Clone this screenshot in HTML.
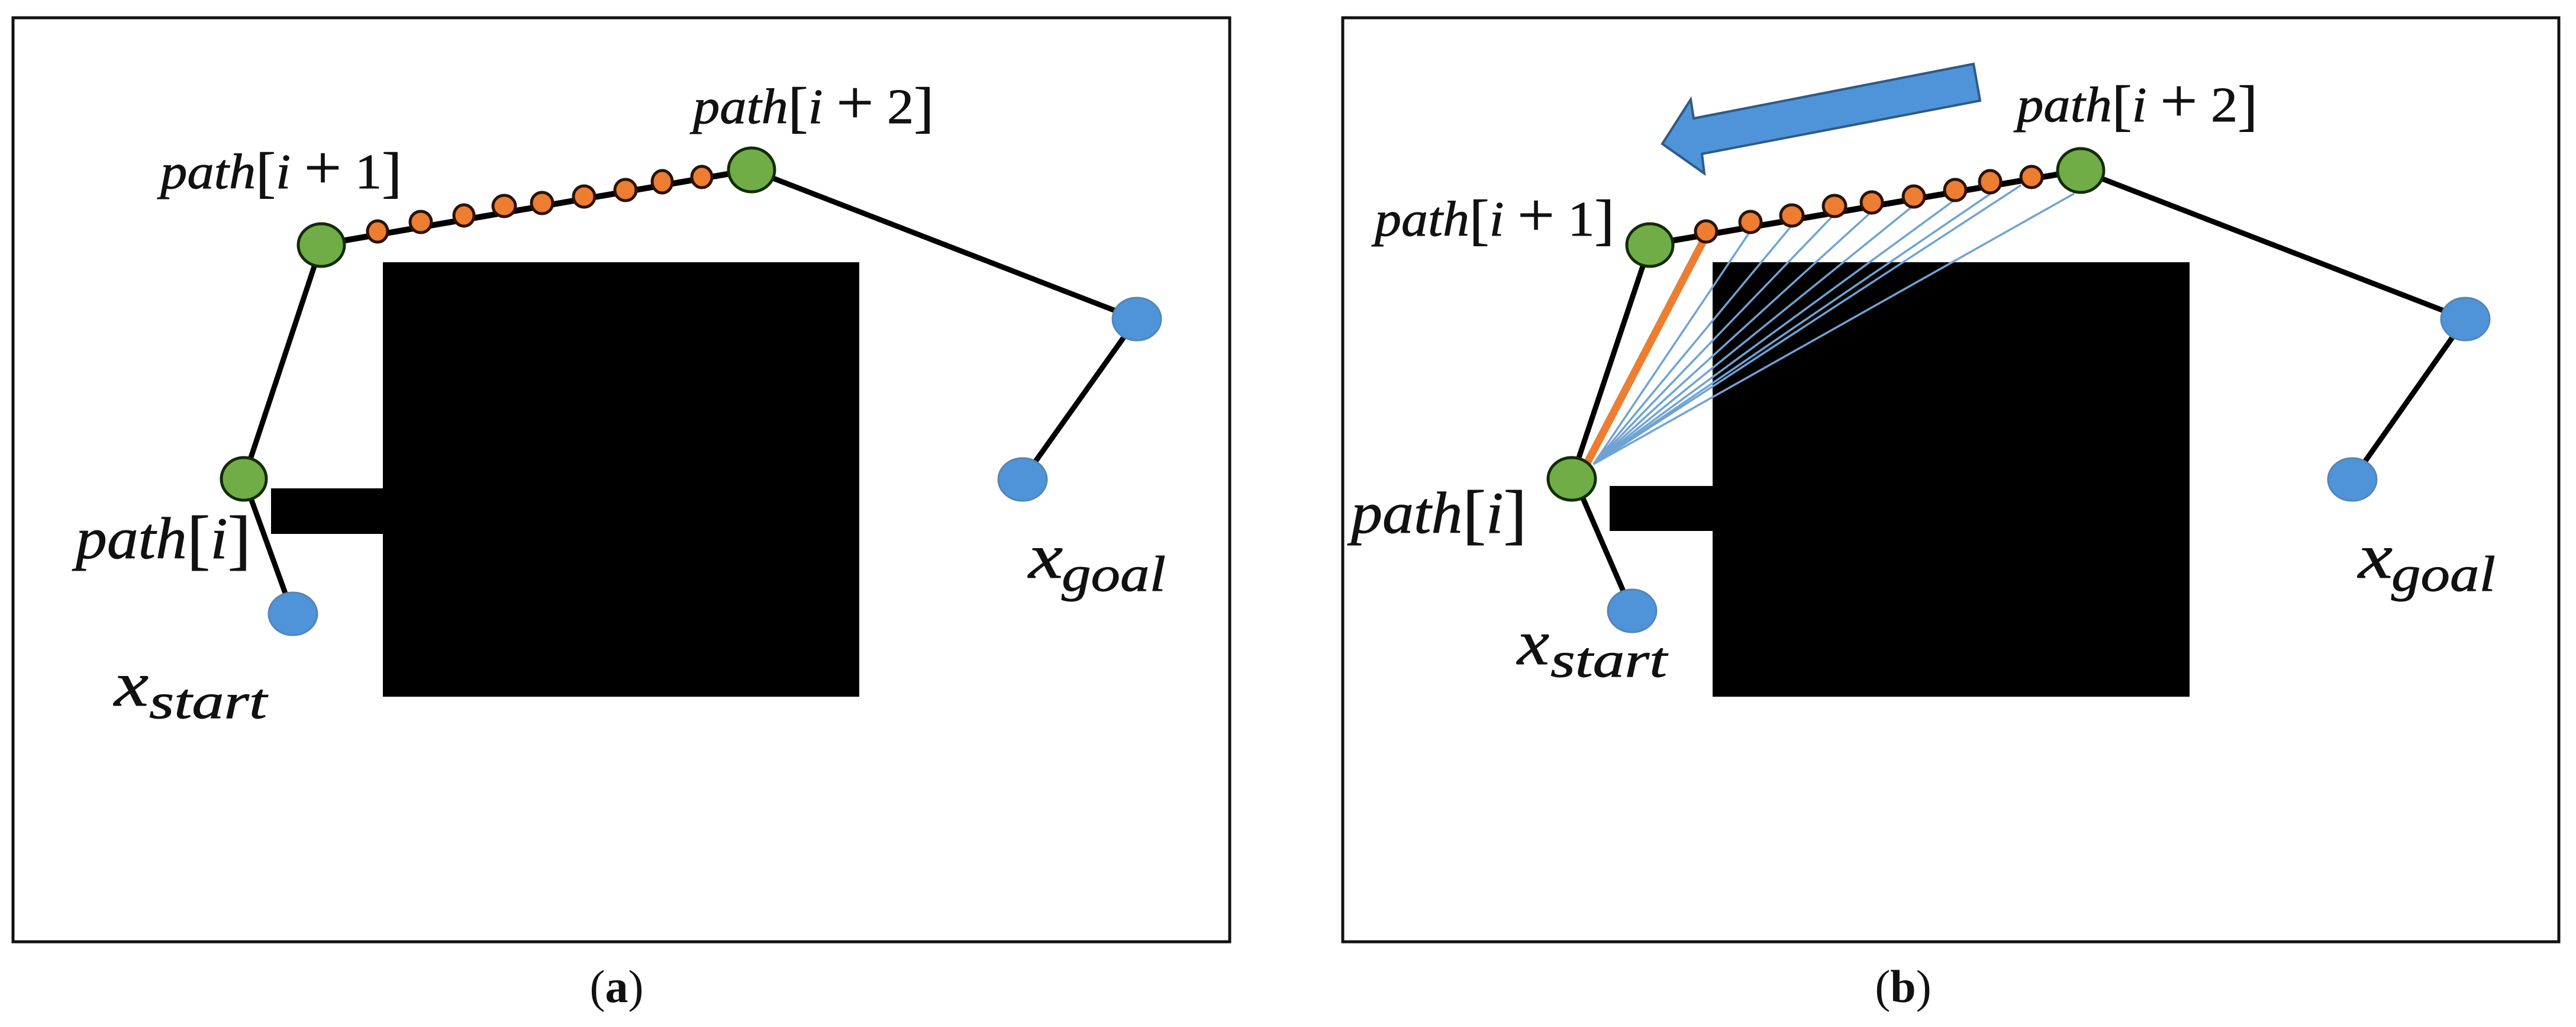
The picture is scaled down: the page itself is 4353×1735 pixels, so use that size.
<!DOCTYPE html>
<html>
<head>
<meta charset="utf-8">
<style>
html,body{margin:0;padding:0;background:#fff;}
svg{display:block;}
text{font-family:"Liberation Serif",serif;fill:#111;}
.lb{stroke:#111;stroke-width:0.9;}
.it{font-style:italic;}
</style>
</head>
<body>
<svg width="4353" height="1735" viewBox="0 0 4353 1735" xmlns="http://www.w3.org/2000/svg">
<rect width="4353" height="1735" fill="#fff"/>

<!-- Panel a -->
<rect x="22" y="30" width="2056" height="1561" fill="#fff" stroke="#111" stroke-width="5"/>
<rect x="647" y="443" width="805" height="734" fill="#000"/>
<rect x="458" y="825" width="190" height="77" fill="#000"/>
<g stroke="#000" stroke-linecap="round" fill="none">
<line x1="543" y1="414" x2="412" y2="809" stroke-width="9"/>
<line x1="412" y1="809" x2="494" y2="1035" stroke-width="9"/>
<line x1="543" y1="413" x2="1270" y2="287" stroke-width="10"/>
<line x1="1270" y1="287" x2="1921" y2="539" stroke-width="9"/>
<line x1="1921" y1="539" x2="1728" y2="810" stroke-width="9"/>
</g>
<g fill="#ED7D31" stroke="#2a1204" stroke-width="5">
<ellipse cx="638" cy="391" rx="17" ry="18"/>
<ellipse cx="711" cy="375" rx="18" ry="18"/>
<ellipse cx="784" cy="364" rx="17" ry="18"/>
<ellipse cx="852" cy="348" rx="19" ry="18"/>
<ellipse cx="916" cy="343" rx="18" ry="18"/>
<ellipse cx="987" cy="332" rx="18" ry="18"/>
<ellipse cx="1057" cy="321" rx="18" ry="18"/>
<ellipse cx="1119" cy="307" rx="17" ry="19"/>
<ellipse cx="1186" cy="299" rx="17" ry="18"/>
</g>
<g fill="#70AD47" stroke="#142b07" stroke-width="5">
<ellipse cx="412" cy="809" rx="38" ry="36"/>
<ellipse cx="543" cy="414" rx="39" ry="36"/>
<ellipse cx="1270" cy="287" rx="39" ry="37"/>
</g>
<g fill="#4F94D8" stroke="#5585b5" stroke-width="3">
<ellipse cx="495" cy="1037" rx="41" ry="36"/>
<ellipse cx="1921" cy="539" rx="41" ry="36"/>
<ellipse cx="1728" cy="810" rx="41" ry="36"/>
</g>
<text class="lb" x="271" y="318" font-size="84" textLength="408" lengthAdjust="spacingAndGlyphs"><tspan class="it">path</tspan><tspan font-size="94" dy="5">[</tspan><tspan class="it" dy="-5">i</tspan> <tspan font-size="104">+</tspan> 1<tspan font-size="94" dy="5">]</tspan></text>
<text class="lb" x="1171" y="208" font-size="84" textLength="407" lengthAdjust="spacingAndGlyphs"><tspan class="it">path</tspan><tspan font-size="94" dy="5">[</tspan><tspan class="it" dy="-5">i</tspan> <tspan font-size="104">+</tspan> 2<tspan font-size="94" dy="5">]</tspan></text>
<text class="lb" x="128" y="943" font-size="100" textLength="296" lengthAdjust="spacingAndGlyphs"><tspan class="it">path</tspan><tspan font-size="112" dy="6">[</tspan><tspan class="it" dy="-6">i</tspan><tspan font-size="112" dy="6">]</tspan></text>
<text class="it lb" x="193" y="1192" font-size="108" textLength="58" lengthAdjust="spacingAndGlyphs">x</text>
<text class="it lb" x="252" y="1213" font-size="85" textLength="199" lengthAdjust="spacingAndGlyphs">start</text>
<text class="it lb" x="1738" y="976" font-size="108" textLength="58" lengthAdjust="spacingAndGlyphs">x</text>
<text class="it lb" x="1794" y="998" font-size="85" textLength="176" lengthAdjust="spacingAndGlyphs">goal</text>
<text x="1042" y="1693" font-size="78" text-anchor="middle">(<tspan font-weight="bold">a</tspan>)</text>

<!-- Panel b -->
<rect x="2269" y="30" width="2055" height="1561" fill="#fff" stroke="#111" stroke-width="5"/>
<rect x="2894" y="443" width="806" height="734" fill="#000"/>
<rect x="2720" y="821" width="176" height="76" fill="#000"/>
<g stroke="#000" stroke-linecap="round" fill="none">
<line x1="2788" y1="414" x2="2656" y2="809" stroke-width="9"/>
<line x1="2672" y1="835" x2="2745" y2="1003" stroke-width="9"/>
<line x1="2788" y1="413" x2="3516" y2="288" stroke-width="10"/>
<line x1="3516" y1="288" x2="4166" y2="539" stroke-width="9"/>
<line x1="4166" y1="539" x2="3975" y2="810" stroke-width="9"/>
</g>
<g stroke="#6fa3d4" stroke-width="3.5" fill="none">
<line x1="2693" y1="784" x2="2956" y2="393"/>
<line x1="2693" y1="784" x2="3026" y2="383"/>
<line x1="2693" y1="784" x2="3096" y2="366"/>
<line x1="2693" y1="784" x2="3160" y2="360"/>
<line x1="2693" y1="784" x2="3230" y2="350"/>
<line x1="2693" y1="784" x2="3300" y2="340"/>
<line x1="2693" y1="784" x2="3364" y2="327"/>
<line x1="2693" y1="784" x2="3415" y2="313"/>
<line x1="2693" y1="784" x2="3505" y2="327"/>
</g>
<line x1="2682" y1="782" x2="2881" y2="402" stroke="#ED7D31" stroke-width="13"/>
<g fill="#ED7D31" stroke="#2a1204" stroke-width="5">
<ellipse cx="2883" cy="391" rx="18" ry="18"/>
<ellipse cx="2958" cy="375" rx="18" ry="18"/>
<ellipse cx="3028" cy="364" rx="19" ry="18"/>
<ellipse cx="3100" cy="348" rx="19" ry="18"/>
<ellipse cx="3163" cy="342" rx="18" ry="18"/>
<ellipse cx="3234" cy="332" rx="18" ry="18"/>
<ellipse cx="3304" cy="321" rx="18" ry="18"/>
<ellipse cx="3363" cy="307" rx="18" ry="19"/>
<ellipse cx="3433" cy="299" rx="18" ry="18"/>
</g>
<g fill="#70AD47" stroke="#142b07" stroke-width="5">
<ellipse cx="2656" cy="809" rx="40" ry="36"/>
<ellipse cx="2788" cy="414" rx="39" ry="36"/>
<ellipse cx="3516" cy="288" rx="39" ry="37"/>
</g>
<g fill="#4F94D8" stroke="#5585b5" stroke-width="3">
<ellipse cx="2758" cy="1032" rx="41" ry="36"/>
<ellipse cx="4166" cy="539" rx="41" ry="36"/>
<ellipse cx="3975" cy="810" rx="41" ry="36"/>
</g>
<polygon points="3335,108 3346,170 2876,260 2880,293 2809,243 2857,168 2862,200" fill="#4F94D8" stroke="#2f5a86" stroke-width="4"/>
<text class="lb" x="2323" y="398" font-size="84" textLength="405" lengthAdjust="spacingAndGlyphs"><tspan class="it">path</tspan><tspan font-size="94" dy="5">[</tspan><tspan class="it" dy="-5">i</tspan> <tspan font-size="104">+</tspan> 1<tspan font-size="94" dy="5">]</tspan></text>
<text class="lb" x="3408" y="205" font-size="84" textLength="407" lengthAdjust="spacingAndGlyphs"><tspan class="it">path</tspan><tspan font-size="94" dy="5">[</tspan><tspan class="it" dy="-5">i</tspan> <tspan font-size="104">+</tspan> 2<tspan font-size="94" dy="5">]</tspan></text>
<text class="lb" x="2283" y="900" font-size="100" textLength="297" lengthAdjust="spacingAndGlyphs"><tspan class="it">path</tspan><tspan font-size="112" dy="6">[</tspan><tspan class="it" dy="-6">i</tspan><tspan font-size="112" dy="6">]</tspan></text>
<text class="it lb" x="2564" y="1122" font-size="108" textLength="54" lengthAdjust="spacingAndGlyphs">x</text>
<text class="it lb" x="2620" y="1143" font-size="85" textLength="197" lengthAdjust="spacingAndGlyphs">start</text>
<text class="it lb" x="3985" y="976" font-size="108" textLength="58" lengthAdjust="spacingAndGlyphs">x</text>
<text class="it lb" x="4041" y="998" font-size="85" textLength="176" lengthAdjust="spacingAndGlyphs">goal</text>
<text x="3216" y="1693" font-size="78" text-anchor="middle">(<tspan font-weight="bold">b</tspan>)</text>
</svg>
</body>
</html>
